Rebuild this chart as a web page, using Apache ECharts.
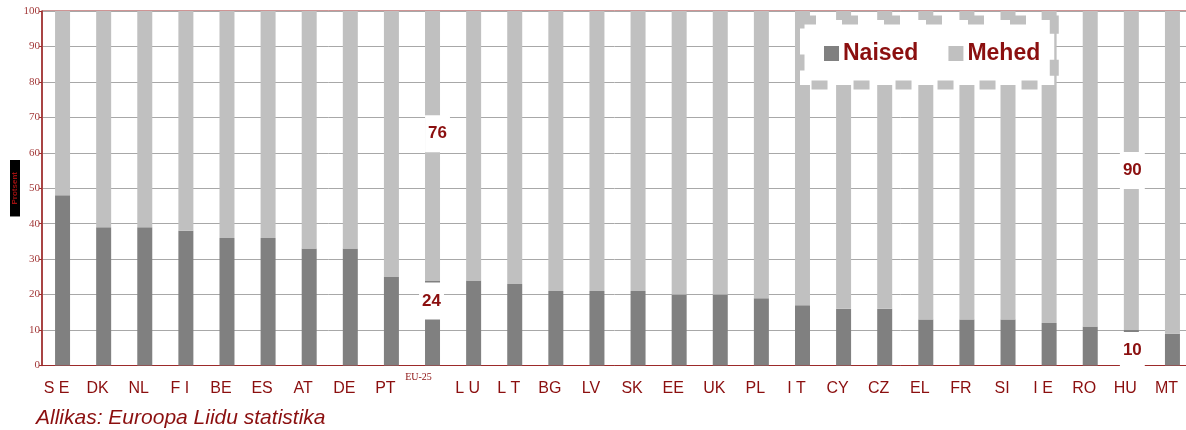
<!DOCTYPE html>
<html><head><meta charset="utf-8">
<script src="https://cdn.jsdelivr.net/npm/echarts@6/dist/echarts.min.js"></script>
<style>html,body{margin:0;padding:0;background:#fff}#c{width:1186px;height:430px}</style>
</head><body><div id="c"></div>
<script>
const categories = ['S E','DK','NL','F I','BE','ES','AT','DE','PT','EU-25','L U','L T','BG','LV','SK','EE','UK','PL','I T','CY','CZ','EL','FR','SI','I E','RO','HU','MT'];
const naised = [48,39,39,38,36,36,33,33,25,24,24,23,21,21,21,20,20,19,17,16,16,13,13,13,12,11,10,9];
const mehed  = [52,61,61,62,64,64,67,67,75,76,76,77,79,79,79,80,80,81,83,84,84,87,87,87,88,89,90,91];
const labelledCats = ['EU-25','HU'];
const seriesNames = ['Naised','Mehed'];
const yMin = 0, yMax = 100, yStep = 10;
const sourceText = 'Allikas: Euroopa Liidu statistika';
const yName = 'Protsent';

const RED = '#8b0f0f';
const AXIS = '#9c2a2a';
const labelBase = {show:true, fontSize:17, fontWeight:'bold', fontFamily:'Liberation Sans', color:RED, backgroundColor:'#fff', padding:[10,3]};

const nData = naised.map((v,i)=>{
  const c = categories[i];
  if (!labelledCats.includes(c)) return v;
  return {value:v, label:Object.assign({}, labelBase, {position:'insideTop', distance:2, offset: c==='EU-25'?[-1,0]:[1,0]})};
});
const mData = mehed.map((v,i)=>{
  const c = categories[i];
  if (!labelledCats.includes(c)) return v;
  return {value:v, label:Object.assign({}, labelBase, {position:'inside', offset: c==='EU-25'?[5,-12]:[1,0]})};
});

const chart = echarts.init(document.getElementById('c'), null, {renderer:'canvas'});
chart.setOption({
  animation:false,
  title:{text:sourceText, left:36, top:408, padding:0,
    textStyle:{fontSize:21, fontStyle:'italic', fontWeight:'normal', fontFamily:'Liberation Sans', color:RED}},
  legend:{left:800, top:20, padding:[22,14,20,24], itemWidth:15, itemHeight:15, itemGap:30,
    icon:'rect', backgroundColor:'#fff', borderColor:'#c0c0c0', borderWidth:9, borderType:[16,26],
    textStyle:{fontSize:23, fontWeight:'bold', fontFamily:'Liberation Sans', color:RED, padding:[0,0,0,-1]},
    data:seriesNames},
  grid:{left:42, top:11, width:1151, height:354.5, outerBoundsMode:'none', containLabel:false,
    show:true, borderColor:AXIS, borderWidth:1, backgroundColor:'transparent'},
  xAxis:{type:'category', data:categories,
    axisLine:{show:true, lineStyle:{color:AXIS, width:1}},
    axisTick:{show:false},
    axisLabel:{interval:0, margin:7,
      formatter:v => v==='EU-25' ? '{eu|'+v+'}' : '{n|'+v+'}',
      rich:{
        n:{fontSize:16, fontFamily:'Liberation Sans', color:RED, padding:[8,12,0,0]},
        eu:{fontSize:10, fontFamily:'Liberation Serif', color:RED, padding:[0,28,0,0]}
      }}},
  yAxis:{type:'value', min:yMin, max:yMax, interval:yStep,
    name:yName, nameLocation:'middle', nameRotate:90, nameGap:22, nameMoveOverlap:false,
    nameTextStyle:{color:'#a01010', fontSize:8, fontWeight:'bold', fontFamily:'Liberation Sans', backgroundColor:'#000', padding:[1,12]},
    axisLine:{show:true, lineStyle:{color:AXIS, width:1.5}},
    axisTick:{show:true, length:3, lineStyle:{color:AXIS}},
    axisLabel:{fontSize:11, fontFamily:'Liberation Serif', color:'#a33a3a', margin:2},
    splitLine:{show:true, lineStyle:{color:'#a8a8a8', width:1}}},
  series:[
    {name:seriesNames[0], type:'bar', stack:'a', barWidth:15, data:nData, itemStyle:{color:'#808080'}},
    {name:seriesNames[1], type:'bar', stack:'a', barWidth:15, data:mData, itemStyle:{color:'#c0c0c0'}}
  ]
});
</script></body></html>
